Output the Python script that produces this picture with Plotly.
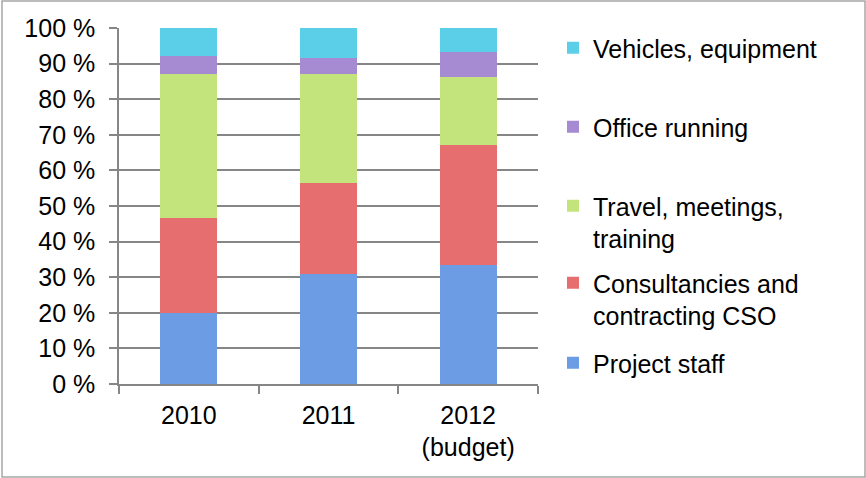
import plotly.graph_objects as go

categories = ["2010", "2011", "2012<br>(budget)"]
series_names = ["Project staff", "Consultancies and<br>contracting CSO",
                "Travel, meetings,<br>training", "Office running", "Vehicles, equipment"]
project_staff = [20.0, 30.9, 33.4]
consultancies = [26.7, 25.6, 33.7]
travel = [40.4, 30.6, 19.1]
office = [5.0, 4.5, 7.1]
vehicles = [7.9, 8.4, 6.7]
y_ticks = list(range(0, 101, 10))
y_tick_text = [f"{v} %" for v in y_ticks]

values = [project_staff, consultancies, travel, office, vehicles]
colors = ["#6c9de4", "#e66e6e", "#c3e47c", "#a68ad2", "#5ccfe8"]
legend_ids = ["legend", "legend2", "legend3", "legend4", "legend5"]

FONT = "Liberation Sans, Arial, sans-serif"
FS = 25
fig = go.Figure()
for name, vals, col, lg in zip(series_names, values, colors, legend_ids):
    fig.add_trace(go.Bar(x=categories, y=vals, name=name, marker=dict(color=col, line=dict(width=0)),
                         legend=lg))

W, H = 866, 478
ml, mr, mt, mb = 119, 328, 28, 94
pw, ph = W - ml - mr, H - mt - mb

def px_y(ypix):
    return (H - mb - ypix) / ph

leg_common = dict(x=(553 - ml) / pw, xanchor="left", yanchor="middle",
                  font=dict(family=FONT, size=FS, color="black"),
                  bgcolor="rgba(0,0,0,0)", itemwidth=30)
centers = [363, 299, 222, 127, 48]
layout_legends = {}
for lg, c, name in zip(legend_ids, centers, series_names):
    d = dict(leg_common, y=px_y(c))
    if "<br>" in name:
        d["valign"] = "top"
    layout_legends[lg] = d

fig.update_layout(
    width=W, height=H,
    margin=dict(l=ml, r=mr, t=mt, b=mb),
    barmode="stack", bargap=0.59,
    plot_bgcolor="white", paper_bgcolor="white",
    font=dict(family=FONT, size=FS, color="black"),
    showlegend=True,
    **layout_legends,
    xaxis=dict(showline=True, linecolor="#868686", linewidth=1.5, ticks="outside",
               ticklen=8, tickcolor="#868686", tickwidth=1.5, tickson="boundaries",
               ticklabelstandoff=8,
               showgrid=False, tickfont=dict(size=FS, color="black"), fixedrange=True),
    yaxis=dict(range=[0, 100], tickmode="array", tickvals=y_ticks, ticktext=y_tick_text,
               showline=True, linecolor="#868686", linewidth=1.5, ticks="outside", ticklen=8,
               ticklabelstandoff=9,
               tickcolor="#868686", tickwidth=1.5, showgrid=True, gridcolor="#868686",
               gridwidth=1.5, zeroline=False, tickfont=dict(size=FS, color="black"),
               fixedrange=True),
    shapes=[dict(type="rect", xref="paper", yref="paper",
                 x0=(2 - ml) / pw, x1=(865 - ml) / pw, y0=px_y(477), y1=px_y(1),
                 line=dict(color="#a6a6a6", width=1.5), fillcolor="rgba(0,0,0,0)", layer="below")],
)

fig.write_html("out.html", config={"displayModeBar": False},
               post_script="document.body.style.margin='0';")
